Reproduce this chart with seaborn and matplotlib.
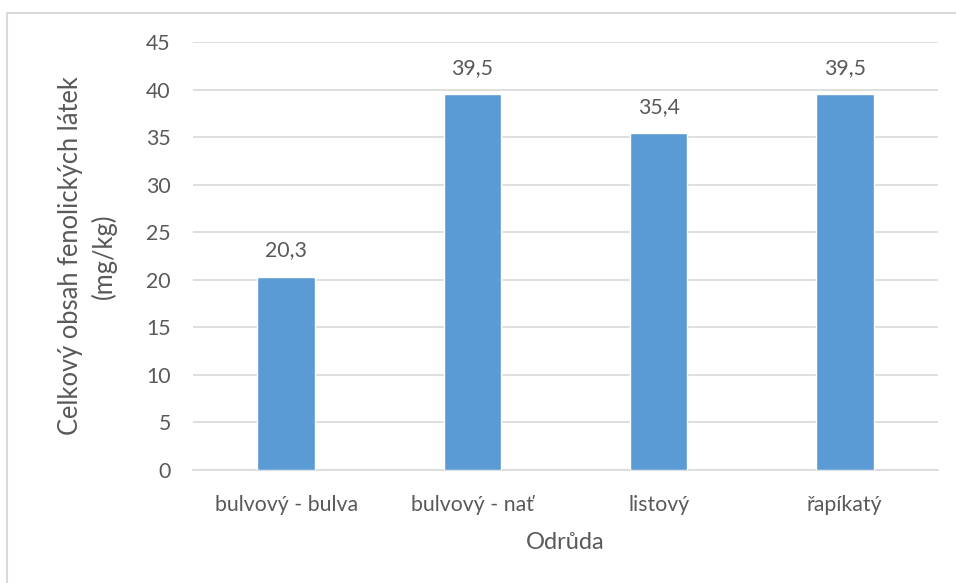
import matplotlib
matplotlib.use("Agg")
import matplotlib.pyplot as plt
import seaborn as sns
import pandas as pd
from matplotlib.patches import Rectangle

categories = ["bulvový - bulva", "bulvový - nať", "listový", "řapíkatý"]
values = [20.3, 39.5, 35.4, 39.5]
labels = ["20,3", "39,5", "35,4", "39,5"]
yticks = [0, 5, 10, 15, 20, 25, 30, 35, 40, 45]

df = pd.DataFrame({"Odrůda": categories, "obsah": values})

sns.set_theme(style="white")
plt.rcParams["font.family"] = ["Lato", "DejaVu Sans"]
text_color = "#595959"
grid_color = "#D9D9D9"

fig = plt.figure(figsize=(9.56, 5.83), dpi=100)
ax = fig.add_axes([193 / 956, 1 - 470 / 583, 745 / 956, 428 / 583])

sns.barplot(data=df, x="Odrůda", y="obsah", color="#5B9BD5", width=0.31,
            saturation=1, ax=ax, zorder=3)

ax.set_ylim(0, 45)
ax.set_yticks(yticks)
ax.set_yticklabels([str(t) for t in yticks])
ax.set_xlim(-0.5, len(categories) - 0.5)
ax.yaxis.grid(True, color=grid_color, linewidth=1.2, zorder=0)
ax.set_axisbelow(True)
for side in ["left", "right", "top"]:
    ax.spines[side].set_visible(False)
ax.spines["bottom"].set_color(grid_color)
ax.spines["bottom"].set_linewidth(1.2)
ax.tick_params(axis="both", length=0, labelsize=15.3, colors=text_color)
ax.tick_params(axis="y", pad=16)
ax.tick_params(axis="x", pad=18)

ax.set_xlabel("Odrůda", fontsize=17, color=text_color, labelpad=12)
ax.set_ylabel("Celkový obsah fenolických látek\n(mg/kg)", fontsize=18.4,
              color=text_color, labelpad=21, linespacing=1.35)

for i, (v, lab) in enumerate(zip(values, labels)):
    ax.annotate(lab, (i, v), xytext=(0, 19), textcoords="offset points",
                ha="center", va="center", fontsize=15.3, color=text_color)

# chart frame
fig.patches.append(Rectangle((7 / 956, -0.2), 1.5, 1 - 13 / 583 + 0.2,
                             transform=fig.transFigure, fill=False,
                             edgecolor=grid_color, linewidth=1.5))

fig.savefig("out.png", dpi=100, facecolor="white")
